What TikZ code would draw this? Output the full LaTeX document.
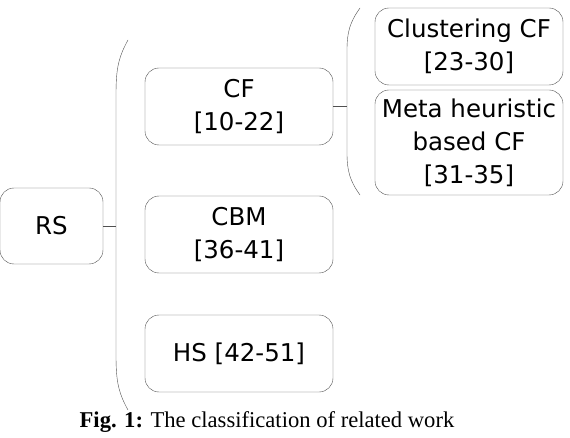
\documentclass[tikz,border=0pt]{standalone}
\usepackage{fontspec}
\setmainfont{DejaVu Sans}
\newfontfamily\capfont{Liberation Serif}
\definecolor{edgegray}{RGB}{80,80,80}

\begin{document}
\begin{tikzpicture}
  [x=1pt,y=-1pt,every node/.style={draw=edgegray,rounded corners=14pt,
   align=center,font=\fontsize{24.5}{33}\selectfont,inner sep=0pt}]
  \useasboundingbox (0,0) rectangle (570,438);
  \node[minimum width=103,minimum height=76] (rs) at (51.5,226) {RS};
  \node[minimum width=188,minimum height=77] (cf) at (239,106.5) {CF\\{[10-22]}};
  \node[minimum width=188,minimum height=77] (cbm) at (239,234.5) {CBM\\{[36-41]}};
  \node[minimum width=188,minimum height=77] (hs) at (239,353.5) {HS [42-51]};
  \node[minimum width=188,minimum height=77] (clus) at (469,46.5) {Clustering CF\\{[23-30]}};
  \node[minimum width=188,minimum height=105] (meta) at (469,142.5) {Meta heuristic\\based CF\\{[31-35]}};
  % brackets
  \draw[edgegray] (128,40) .. controls (118,58) and (116,70) .. (116,95)
    -- (116,355) .. controls (116,380) and (118,392) .. (128,410);
  \draw[edgegray] (360,8) .. controls (350,22) and (347,32) .. (347,50)
    -- (347,153) .. controls (347,171) and (350,181) .. (360,195);
  \coordinate (b_1) at (116,226);
  \coordinate (b_2) at (347,106.5);
  \foreach \from/\to in {rs/b_1,cf/b_2}
    \draw[edgegray] (\from) -- (\to);

  \node[draw=none,font=\capfont\fontsize{22.6}{26}\selectfont] (cap) at (267,422)
    {\textbf{Fig. 1:} The classification of related work};
\end{tikzpicture}
\end{document}
